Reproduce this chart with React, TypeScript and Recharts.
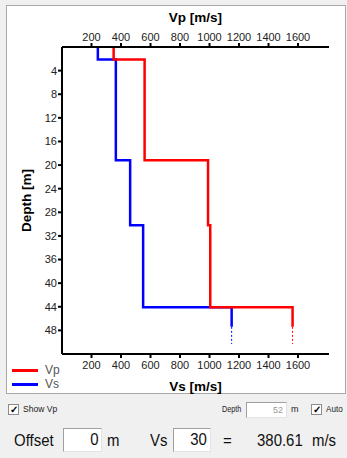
import React from 'react';
import { ComposedChart, Line, XAxis, YAxis, Legend } from 'recharts';

// layer tops (m) and interval velocities (m/s)
const layerTops = [0, 2.1, 19.2, 30.2, 44.1];
const vpValues = [350, 560, 990, 1005, 1563];
const vsValues = [243, 365, 462, 550, 1150];
const solidEnd = 47.4;
const dashedEnd = 50.3;

const velocityTicks = [200, 400, 600, 800, 1000, 1200, 1400, 1600];
const depthTicks = [4, 8, 12, 16, 20, 24, 28, 32, 36, 40, 44, 48];

const FONT = '"Liberation Sans", Arial, sans-serif';

function stepProfile(values: number[]) {
  const pts: { v: number; d: number }[] = [];
  values.forEach((v, i) => {
    const bottom = i < values.length - 1 ? layerTops[i + 1] : solidEnd;
    pts.push({ v, d: layerTops[i] }, { v, d: bottom });
  });
  return pts;
}

function halfSpaceTail(values: number[]) {
  const v = values[values.length - 1];
  return [
    { v, d: solidEnd },
    { v, d: dashedEnd },
  ];
}

const vpProfile = stepProfile(vpValues);
const vsProfile = stepProfile(vsValues);
const vpTail = halfSpaceTail(vpValues);
const vsTail = halfSpaceTail(vsValues);

const tickStyle = { fontSize: 11, fill: '#222', fontFamily: FONT };
const titleStyle = { fontSize: 13.5, fontWeight: 'bold', fill: '#000', fontFamily: FONT };

function renderLegend(props: any) {
  const items = [...(props.payload || [])]
    .filter((p: any) => p.type !== 'none')
    .sort((a: any, b: any) => String(a.value).localeCompare(String(b.value)));
  return (
    <div style={{ fontFamily: FONT, fontSize: 12, color: '#555', width: 60 }}>
      {items.map((it: any) => (
        <div key={it.value} style={{ display: 'flex', alignItems: 'center', height: 14, whiteSpace: 'nowrap' }}>
          <span style={{ display: 'inline-block', flexShrink: 0, width: 26, height: 3, background: it.color, marginRight: 7 }} />
          <span>{it.value}</span>
        </div>
      ))}
    </div>
  );
}

function CheckBox({ left, top }: { left: number; top: number }) {
  return (
    <div
      style={{
        position: 'absolute',
        left,
        top,
        width: 11,
        height: 11,
        boxSizing: 'border-box',
        border: '1px solid #8c8c8c',
        background: '#fff',
        fontSize: 10,
        lineHeight: '9px',
        textAlign: 'center',
        color: '#000',
        fontWeight: 'bold',
      }}
    >
      ✓
    </div>
  );
}

function Field({ left, top, width, height, value, color, fontSize, squeeze = 1 }: any) {
  return (
    <div
      style={{
        position: 'absolute',
        left,
        top,
        width,
        height,
        boxSizing: 'border-box',
        background: '#fff',
        borderTop: '1px solid #a0a0a0',
        borderLeft: '1px solid #a0a0a0',
        borderRight: '1px solid #e3e3e3',
        borderBottom: '1px solid #e3e3e3',
        textAlign: 'right',
        paddingRight: 3,
        fontSize,
        lineHeight: `${height - 2}px`,
        color,
      }}
    >
      <span style={{ display: 'inline-block', transform: `scaleX(${squeeze})`, transformOrigin: 'right center' }}>{value}</span>
    </div>
  );
}

function Txt({ left, top, size, children, color = '#111', squeeze = 1 }: any) {
  return (
    <div
      style={{
        position: 'absolute',
        left,
        top,
        fontSize: size,
        color,
        whiteSpace: 'nowrap',
        lineHeight: 1,
        transform: `scaleX(${squeeze})`,
        transformOrigin: 'left center',
      }}
    >
      {children}
    </div>
  );
}

export default function App() {
  return (
    <div
      style={{
        position: 'absolute',
        left: 0,
        top: 0,
        width: 347,
        height: 458,
        background: '#f0f0f0',
        fontFamily: FONT,
        overflow: 'hidden',
      }}
    >
      <div
        style={{
          position: 'absolute',
          left: 6,
          top: 5,
          width: 340,
          height: 389,
          boxSizing: 'border-box',
          background: '#fff',
          border: '1px solid #a8a8a8',
        }}
      />
      <div style={{ position: 'absolute', left: 0, top: 0 }}>
        <ComposedChart width={347} height={400} margin={{ top: 5, right: 18, bottom: 6, left: 22 }}>
          <XAxis
            xAxisId="top"
            orientation="top"
            type="number"
            dataKey="v"
            domain={[0, 1810]}
            allowDataOverflow
            ticks={velocityTicks}
            height={42}
            tick={tickStyle}
            tickSize={4}
            tickMargin={2}
            stroke="#000"
            strokeWidth={2}
            label={{ value: 'Vp [m/s]', position: 'insideTop', offset: 7, style: titleStyle }}
          />
          <XAxis
            xAxisId="bottom"
            orientation="bottom"
            type="number"
            dataKey="v"
            domain={[0, 1810]}
            allowDataOverflow
            ticks={velocityTicks}
            height={40}
            tick={tickStyle}
            tickSize={4}
            tickMargin={3}
            stroke="#000"
            strokeWidth={2}
            label={{ value: 'Vs [m/s]', position: 'insideBottom', offset: 3, style: titleStyle }}
          />
          <YAxis
            type="number"
            reversed
            domain={[0, 52]}
            allowDataOverflow
            ticks={depthTicks}
            width={40}
            tick={tickStyle}
            tickSize={4}
            tickMargin={1}
            stroke="#000"
            strokeWidth={2}
            label={{ value: 'Depth [m]', angle: -90, position: 'insideLeft', offset: 4, style: { ...titleStyle, textAnchor: 'middle' } }}
          />
          <Legend
            content={renderLegend}
            wrapperStyle={{ left: 12, top: 363, width: 0, height: 0, overflow: 'visible' }}
          />
          <Line
            xAxisId="bottom"
            data={vsProfile}
            dataKey="d"
            name="Vs"
            type="linear"
            stroke="#0000ff"
            strokeWidth={2.5}
            dot={false}
            activeDot={false}
            legendType="line"
            isAnimationActive={false}
          />
          <Line
            xAxisId="bottom"
            data={vsTail}
            dataKey="d"
            name="Vs tail"
            type="linear"
            stroke="#0000ff"
            strokeWidth={1}
            strokeDasharray="2 2"
            dot={false}
            activeDot={false}
            legendType="none"
            isAnimationActive={false}
          />
          <Line
            xAxisId="top"
            data={vpProfile}
            dataKey="d"
            name="Vp"
            type="linear"
            stroke="#ff0000"
            strokeWidth={2.5}
            dot={false}
            activeDot={false}
            legendType="line"
            isAnimationActive={false}
          />
          <Line
            xAxisId="top"
            data={vpTail}
            dataKey="d"
            name="Vp tail"
            type="linear"
            stroke="#ff0000"
            strokeWidth={1}
            strokeDasharray="2 2"
            dot={false}
            activeDot={false}
            legendType="none"
            isAnimationActive={false}
          />
        </ComposedChart>
      </div>

      {/* controls under the chart */}
      <CheckBox left={8} top={404} />
      <Txt left={23} top={405} size={9} color="#222" squeeze={0.95}>Show Vp</Txt>
      <Txt left={222} top={405} size={9} color="#222" squeeze={0.8}>Depth</Txt>
      <Field left={246} top={402} width={41} height={16} value="52" color="#999" fontSize={9} />
      <Txt left={291} top={405} size={9} color="#222">m</Txt>
      <CheckBox left={311} top={404} />
      <Txt left={326} top={405} size={9} color="#222" squeeze={0.9}>Auto</Txt>

      <Txt left={14} top={432} size={17} squeeze={0.88}>Offset</Txt>
      <Field left={63} top={428} width={39} height={24} value="0" color="#111" fontSize={17} squeeze={0.88} />
      <Txt left={107} top={432} size={17} squeeze={0.88}>m</Txt>
      <Txt left={150} top={432} size={17} squeeze={0.88}>Vs</Txt>
      <Field left={173} top={428} width={38} height={24} value="30" color="#111" fontSize={17} squeeze={0.88} />
      <Txt left={223} top={432} size={17} squeeze={0.88}>=</Txt>
      <Txt left={257} top={432} size={17} squeeze={0.88}>380.61</Txt>
      <Txt left={312} top={432} size={17} squeeze={0.88}>m/s</Txt>
    </div>
  );
}
